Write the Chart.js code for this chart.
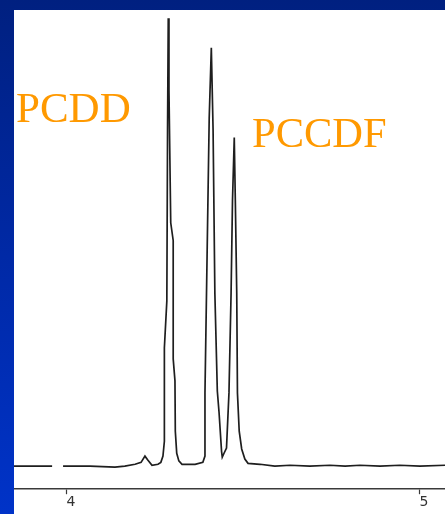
<!DOCTYPE html>
<html>
<head>
<meta charset="utf-8">
<script src="https://cdn.jsdelivr.net/npm/chart.js@4.4.1/dist/chart.umd.min.js"></script>
<style>
  html, body { margin: 0; padding: 0; }
  body {
    width: 445px; height: 514px; overflow: hidden; position: relative;
    background: linear-gradient(to bottom, #002080 0%, #0029a6 50%, #0033c8 100%);
  }
  #plot { position: absolute; left: 14px; top: 10px; width: 431px; height: 504px; background: #fff; }
  .lbl { position: absolute; font-family: "Liberation Serif", "DejaVu Serif", serif; line-height: 1; color: #ff9900; white-space: nowrap; }
</style>
</head>
<body>
<div id="plot"><canvas id="chrom"></canvas></div>
<div class="lbl" style="left:16px; top:86px; font-size:43px;">PCDD</div>
<div class="lbl" style="left:252px; top:112px; font-size:42.5px;">PCCDF</div>
<script>
// retention time (min) and detector response (% of full scale)
var times = [3.850, 3.958, 3.970, 3.989, 4.065, 4.136, 4.164, 4.193, 4.210, 4.221, 4.229, 4.241, 4.258, 4.266,
  4.272, 4.276, 4.276, 4.283, 4.285, 4.287, 4.289, 4.294, 4.301, 4.301, 4.306, 4.307, 4.311, 4.317, 4.326,
  4.363, 4.385, 4.391, 4.391, 4.397, 4.403, 4.409, 4.414, 4.419, 4.426, 4.431, 4.438, 4.440, 4.445, 4.452,
  4.459, 4.465, 4.469, 4.474, 4.477, 4.481, 4.483, 4.488, 4.495, 4.504, 4.513,
  4.547, 4.589, 4.632, 4.688, 4.745, 4.788, 4.830, 4.887, 4.943, 5.000, 5.071];
var response = [4.8, 4.8, null, 4.8, 4.8, 4.6, 4.8, 5.2, 5.6, 6.9, 6.1, 5.0, 5.2, 5.6,
  6.9, 10.0, 29.5, 39.3, 74.9, 98.3, 83.3, 55.6, 51.9, 27.2, 22.6, 12.1, 7.5, 5.9, 5.2,
  5.2, 5.6, 6.9, 20.1, 48.7, 77.4, 92.1, 74.9, 41.0, 20.5, 15.9, 7.9, 6.7, 7.5, 8.6,
  20.1, 41.0, 60.3, 73.4, 60.3, 41.0, 20.1, 12.1, 8.4, 6.3, 5.4,
  5.2, 4.8, 5.0, 4.8, 5.0, 4.8, 5.0, 4.8, 5.0, 4.8, 5.0];
var xTicks = [4, 5];

var points = times.map(function(t, i){ return {x: t, y: response[i]}; });

var ctx = document.getElementById('chrom').getContext('2d');
var chart = new Chart(ctx, {
  type: 'line',
  data: {
    datasets: [{
      data: points,
      borderColor: '#1e1e1e',
      borderWidth: 1.7,
      pointRadius: 0,
      tension: 0,
      spanGaps: false,
      fill: false
    }]
  },
  options: {
    responsive: true,
    maintainAspectRatio: false,
    animation: false,
    layout: { padding: { left: 0, right: 0, top: 0, bottom: 3 } },
    plugins: { legend: { display: false }, tooltip: { enabled: false } },
    scales: {
      x: {
        type: 'linear',
        min: 3.85,
        max: 5.071,
        afterBuildTicks: function(axis){ axis.ticks = xTicks.map(function(v){ return {value: v}; }); },
        border: { display: true, color: '#3a3a3a', width: 1.5 },
        grid: { drawOnChartArea: false, tickLength: 5, color: '#3a3a3a', tickWidth: 1.2 },
        ticks: { color: '#333', padding: 0, labelOffset: 4, font: { family: 'DejaVu Sans', size: 14 } }
      },
      y: { display: false, min: 0, max: 100 }
    }
  }
});
</script>
</body>
</html>
